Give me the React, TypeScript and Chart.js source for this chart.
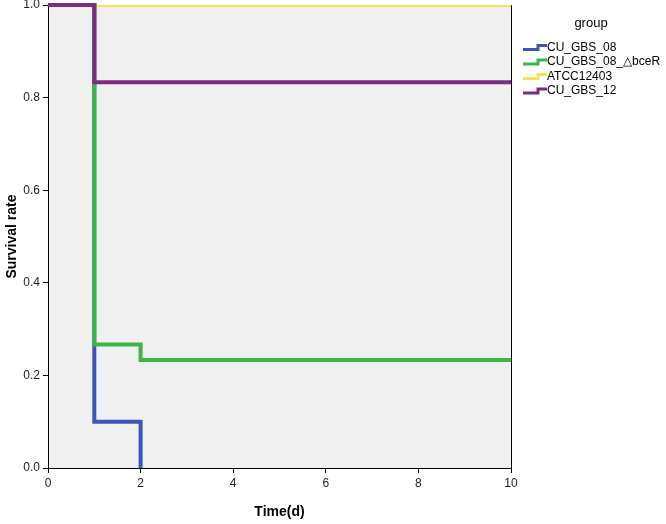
import React, { useEffect, useRef } from "react";
import { Chart, registerables } from "chart.js";

Chart.register(...registerables);

// Kaplan-Meier step points (time, survival)
const seriesNames = ["CU_GBS_08", "CU_GBS_08_△bceR", "ATCC12403", "CU_GBS_12"];
const seriesColors = ["#3d56b6", "#3cb64a", "#ece85a", "#7b2b80"];
const timesBlue = [0, 1, 2];
const survBlue = [1.0, 0.1, 0.0];
const timesGreen = [0, 1, 2, 10];
const survGreen = [1.0, 0.267, 0.233, 0.233];
const timesYellow = [0, 10];
const survYellow = [1.0, 1.0];
const timesPurple = [0, 1, 10];
const survPurple = [1.0, 0.833, 0.833];
const xTicks = [0, 2, 4, 6, 8, 10];
const yTicks = [0, 0.2, 0.4, 0.6, 0.8, 1.0];
const legendTitle = "group";
const xTitle = "Time(d)";
const yTitle = "Survival rate";

const FONT = "'Liberation Sans', Arial, sans-serif";

function pts(xs: number[], ys: number[]) {
  return xs.map((x, i) => ({ x, y: ys[i] }));
}

export default function App() {
  const ref = useRef<HTMLCanvasElement | null>(null);
  useEffect(() => {
    if (!ref.current) return;
    const allSeries = [
      pts(timesBlue, survBlue),
      pts(timesGreen, survGreen),
      pts(timesYellow, survYellow),
      pts(timesPurple, survPurple),
    ];
    // lower order is drawn on top: purple > green > blue > yellow
    const drawOrder = [2, 1, 3, 0];
    const datasets = allSeries.map((data, i) => ({
      label: seriesNames[i],
      data,
      borderColor: seriesColors[i],
      backgroundColor: seriesColors[i],
      borderWidth: 4,
      pointRadius: 0,
      stepped: true as const,
      fill: false,
      clip: (i === 2 ? 0 : false) as any,
      order: drawOrder[i],
      borderCapStyle: "butt" as const,
      borderJoinStyle: "miter" as const,
    }));

    const bgPlugin = {
      id: "bg",
      beforeDraw(chart: any) {
        const { ctx, chartArea } = chart;
        ctx.save();
        ctx.fillStyle = "#f0f0f0";
        ctx.fillRect(chartArea.left, chartArea.top, chartArea.right - chartArea.left, chartArea.bottom - chartArea.top);
        ctx.strokeStyle = "#000";
        ctx.lineWidth = 1;
        ctx.beginPath();
        ctx.moveTo(chartArea.left, chartArea.top + 0.5);
        ctx.lineTo(chartArea.right + 0.5, chartArea.top + 0.5);
        ctx.lineTo(chartArea.right + 0.5, chartArea.bottom);
        ctx.stroke();
        ctx.restore();
      },
      afterDraw(chart: any) {
        const { ctx } = chart;
        ctx.save();
        ctx.fillStyle = "#000";
        ctx.font = `13px ${FONT}`;
        ctx.textAlign = "center";
        ctx.textBaseline = "middle";
        ctx.fillText(legendTitle, 591, 23);
        ctx.font = `12px ${FONT}`;
        ctx.textAlign = "left";
        chart.data.datasets.forEach((ds: any, i: number) => {
          const cy = 47.5 + i * 14.5;
          ctx.strokeStyle = ds.borderColor;
          ctx.lineWidth = 3;
          ctx.beginPath();
          ctx.moveTo(523, cy + 2);
          ctx.lineTo(538, cy + 2);
          ctx.lineTo(538, cy - 2);
          ctx.lineTo(547, cy - 2);
          ctx.stroke();
          ctx.fillStyle = "#000";
          ctx.fillText(ds.label, 547, cy);
        });
        ctx.restore();
      },
    };

    const chart = new Chart(ref.current, {
      type: "line",
      data: { datasets },
      options: {
        animation: false,
        responsive: true,
        maintainAspectRatio: false,
        layout: { padding: { left: 0, right: 155, top: 5, bottom: 0 } },
        plugins: { legend: { display: false }, tooltip: { enabled: false } },
        scales: {
          x: {
            type: "linear",
            min: 0,
            max: 10,
            afterBuildTicks: (s: any) => { s.ticks = xTicks.map((v) => ({ value: v })); },
            afterFit: (s: any) => { s.height = 56; s.paddingLeft = 0; s.paddingRight = 0; },
            ticks: { color: "#222", font: { family: FONT, size: 12 }, padding: 3, maxRotation: 0 },
            grid: { display: true, drawOnChartArea: false, drawTicks: true, tickLength: 5, color: "#000" },
            border: { display: true, color: "#000", width: 1 },
            title: { display: true, text: xTitle, color: "#000", font: { family: FONT, size: 14, weight: "bold" }, padding: { top: 0, bottom: 3 } },
          },
          y: {
            type: "linear",
            min: 0,
            max: 1,
            afterBuildTicks: (s: any) => { s.ticks = yTicks.map((v) => ({ value: v })); },
            afterFit: (s: any) => { s.width = 48; s.paddingTop = 0; s.paddingBottom = 0; },
            ticks: { color: "#222", font: { family: FONT, size: 12 }, padding: 3, callback: (v: any) => Number(v).toFixed(1) },
            grid: { display: true, drawOnChartArea: false, drawTicks: true, tickLength: 5, color: "#000" },
            border: { display: true, color: "#000", width: 1 },
            title: { display: true, text: yTitle, color: "#000", font: { family: FONT, size: 14, weight: "bold" }, padding: { top: 4, bottom: 0 } },
          },
        },
      },
      plugins: [bgPlugin],
    } as any);
    return () => chart.destroy();
  }, []);
  return (
    <div style={{ position: "fixed", left: 0, top: 0, width: 666, height: 524, background: "#fff" }}>
      <canvas ref={ref} />
    </div>
  );
}
